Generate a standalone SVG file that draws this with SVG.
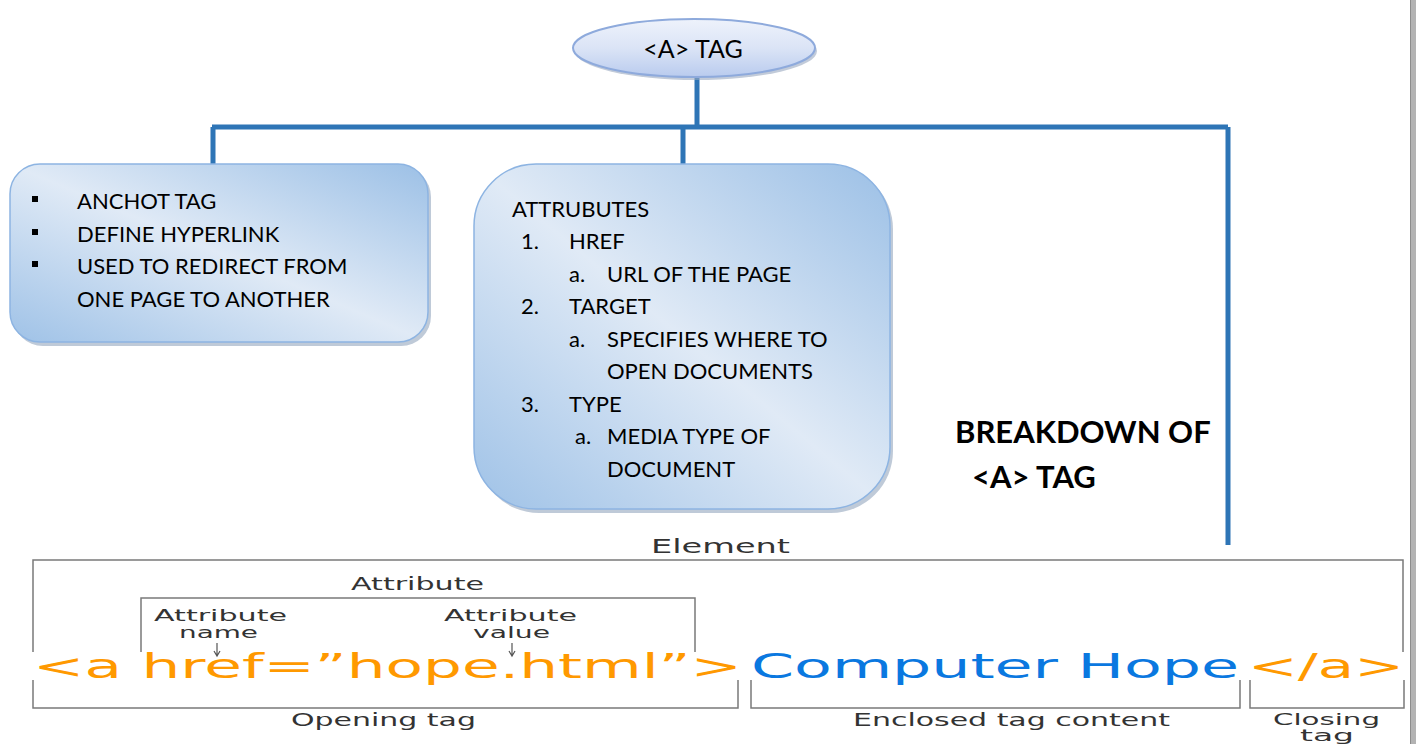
<svg xmlns="http://www.w3.org/2000/svg" width="1416" height="744" viewBox="0 0 1416 744">
<defs>
<linearGradient id="boxGrad" x1="0" y1="1" x2="1" y2="0">
<stop offset="0" stop-color="#9fc2e7"/>
<stop offset="0.5" stop-color="#e0eaf6"/>
<stop offset="1" stop-color="#9cc0e6"/>
</linearGradient>
<linearGradient id="ovalGrad" x1="0" y1="0" x2="0" y2="1">
<stop offset="0" stop-color="#eef2fb"/>
<stop offset="0.5" stop-color="#dbe4f6"/>
<stop offset="1" stop-color="#b9cbee"/>
</linearGradient>
</defs>
<style>
.top{font-family:Lato,"Liberation Sans",sans-serif;font-size:22px;fill:#000}
.bold{font-family:Lato,"Liberation Sans",sans-serif;font-size:31px;font-weight:bold;fill:#000}
.conn{stroke:#2e75b6;stroke-width:5;fill:none}
.box{fill:url(#boxGrad);stroke:#8db4e2;stroke-width:1.5}
.shadow{fill:#8a9fb8;opacity:0.55}
.lbl{font-family:"DejaVu Sans",Verdana,sans-serif;font-size:17px;fill:#333}
.sm{font-size:15.5px}
.ln{stroke:#7a7a7a;stroke-width:1.5;fill:none}
.arr{stroke:#555;stroke-width:1.2;fill:none}
.code{font-family:"DejaVu Sans",Verdana,sans-serif;font-size:33px}
.org{fill:#ff9900}
.blu{fill:#0a78e0}
</style>
<rect x="0" y="0" width="1416" height="744" fill="#ffffff"/>
<rect x="1410" y="0" width="6" height="744" fill="#b3b3b3"/>
<line x1="1410.5" y1="0" x2="1410.5" y2="744" stroke="#8c8c8c" stroke-width="1"/>

<g id="connectors">
<path class="conn" d="M697,78 V127 M212,127 H1228 M213,127 V164 M683,127 V164 M1228,127 V545"/>
</g>

<g id="root">
<ellipse cx="696" cy="51" rx="121" ry="29" fill="#9aa9c0" opacity="0.6"/>
<ellipse cx="694" cy="48" rx="121" ry="29" fill="url(#ovalGrad)" stroke="#8eaadc" stroke-width="2"/>
<text class="top" x="693" y="58" text-anchor="middle" style="font-size:25px">&lt;A&gt; TAG</text>
</g>

<g id="left-box">
<rect class="shadow" x="13" y="167" width="418" height="179" rx="30"/>
<rect class="box" x="10" y="164" width="418" height="178" rx="30"/>
<rect x="32" y="196" width="6" height="6" fill="#000"/>
<rect x="32" y="229" width="6" height="6" fill="#000"/>
<rect x="32" y="261" width="6" height="6" fill="#000"/>
<text class="top" x="77" y="209">ANCHOT TAG</text>
<text class="top" x="77" y="242">DEFINE HYPERLINK</text>
<text class="top" x="77" y="274">USED TO REDIRECT FROM</text>
<text class="top" x="77" y="307">ONE PAGE TO ANOTHER</text>
</g>

<g id="attributes-box">
<rect class="shadow" x="477" y="167" width="416" height="346" rx="62"/>
<rect class="box" x="474" y="164" width="416" height="345" rx="62"/>
<text class="top" x="512" y="217">ATTRUBUTES</text>
<text class="top" x="521" y="249">1.</text>
<text class="top" x="569" y="249">HREF</text>
<text class="top" x="569" y="282">a.</text>
<text class="top" x="607" y="282">URL OF THE PAGE</text>
<text class="top" x="521" y="314">2.</text>
<text class="top" x="569" y="314">TARGET</text>
<text class="top" x="569" y="347">a.</text>
<text class="top" x="607" y="347">SPECIFIES WHERE TO</text>
<text class="top" x="607" y="379">OPEN DOCUMENTS</text>
<text class="top" x="521" y="412">3.</text>
<text class="top" x="569" y="412">TYPE</text>
<text class="top" x="575" y="444">a.</text>
<text class="top" x="607" y="444">MEDIA TYPE OF</text>
<text class="top" x="607" y="477">DOCUMENT</text>
</g>

<g id="breakdown-title">
<text class="bold" x="955" y="443">BREAKDOWN OF</text>
<text class="bold" x="972" y="488">&lt;A&gt; TAG</text>
</g>

<g id="element-diagram">
<text class="lbl" x="651" y="553" textLength="139" lengthAdjust="spacingAndGlyphs" style="font-size:19px">Element</text>
<path class="ln" d="M33,652 V560 H1403 V652"/>
<text class="lbl" x="351" y="590" textLength="133" lengthAdjust="spacingAndGlyphs">Attribute</text>
<path class="ln" d="M141,652 V598 H695 V652"/>
<text class="lbl sm" x="154" y="621" textLength="133" lengthAdjust="spacingAndGlyphs">Attribute</text>
<text class="lbl sm" x="179" y="638" textLength="79" lengthAdjust="spacingAndGlyphs">name</text>
<text class="lbl sm" x="444" y="621" textLength="133" lengthAdjust="spacingAndGlyphs">Attribute</text>
<text class="lbl sm" x="473" y="638" textLength="77" lengthAdjust="spacingAndGlyphs">value</text>
<path class="arr" d="M217,643 V655 M214,651 L217,656 L220,651"/>
<path class="arr" d="M512,643 V655 M509,651 L512,656 L515,651"/>
<text class="code org" x="33" y="678" textLength="709" lengthAdjust="spacingAndGlyphs">&lt;a href=”hope.html”&gt;</text>
<text class="code blu" x="751" y="678" textLength="488" lengthAdjust="spacingAndGlyphs">Computer Hope</text>
<text class="code org" x="1248" y="678" textLength="156" lengthAdjust="spacingAndGlyphs">&lt;/a&gt;</text>
<path class="ln" d="M33,680 V708 H738 V680"/>
<path class="ln" d="M751,680 V708 H1240 V680"/>
<path class="ln" d="M1250,680 V708 H1404 V680"/>
<text class="lbl" x="291" y="726" textLength="185" lengthAdjust="spacingAndGlyphs">Opening tag</text>
<text class="lbl" x="853" y="726" textLength="317" lengthAdjust="spacingAndGlyphs">Enclosed tag content</text>
<text class="lbl sm" x="1273" y="725" textLength="107" lengthAdjust="spacingAndGlyphs">Closing</text>
<text class="lbl sm" x="1327" y="741" text-anchor="middle" textLength="54" lengthAdjust="spacingAndGlyphs">tag</text>
</g>
</svg>
